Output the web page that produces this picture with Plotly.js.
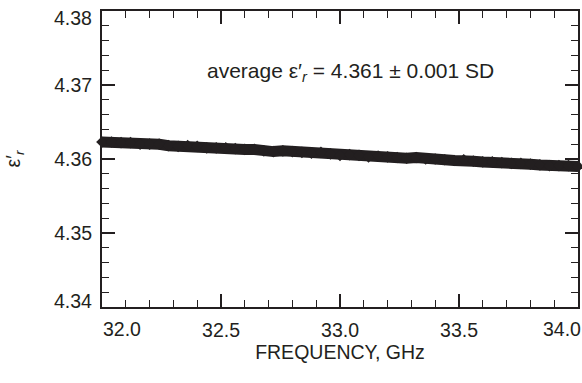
<!DOCTYPE html>
<html>
<head>
<meta charset="utf-8">
<script src="https://cdn.plot.ly/plotly-3.0.1.min.js"></script>
<style>html,body{margin:0;padding:0;background:#fff;}#chart{width:582px;height:383px;}</style>
</head>
<body>
<div id="chart"></div>
<script>
// Frequency (GHz)
const freqGHz = [32.00,32.04,32.08,32.12,32.16,32.20,32.24,32.28,32.32,32.36,
  32.40,32.44,32.48,32.52,32.56,32.60,32.64,32.68,32.72,32.76,
  32.80,32.84,32.88,32.92,32.96,33.00,33.04,33.08,33.12,33.16,
  33.20,33.24,33.28,33.32,33.36,33.40,33.44,33.48,33.52,33.56,
  33.60,33.64,33.68,33.72,33.76,33.80,33.84,33.88,33.92,33.96,34.00];
// Relative permittivity eps'_r
const epsR = [4.3623,4.3623,4.3622,4.3622,4.3620,4.3620,4.3620,4.3618,4.3617,4.3618,
  4.3617,4.3615,4.3615,4.3615,4.3614,4.3613,4.3613,4.3611,4.3610,4.3611,
  4.3610,4.3609,4.3608,4.3609,4.3607,4.3605,4.3606,4.3605,4.3603,4.3604,
  4.3603,4.3602,4.3601,4.3602,4.3600,4.3600,4.3599,4.3598,4.3599,4.3597,
  4.3596,4.3596,4.3595,4.3594,4.3594,4.3593,4.3592,4.3591,4.3591,4.3591,4.3590];
const xTickVals = [32.5,33.0,33.5];
const xTickText = ['32.5','33.0','33.5'];
const yTickVals = [4.35,4.36,4.37];
const yTickText = ['4.35','4.36','4.37'];
const xEdgeLabels = ['32.0','34.0'];
const yEdgeLabels = ['4.38','4.34'];
const avgText = 'average ε′<sub><i>r</i></sub> = 4.361 ± 0.001 SD';

const ink = '#231f20';
const fontFam = '"Liberation Sans", Arial, Helvetica, sans-serif';
const fs = 19.5;

const trace = {
  x: freqGHz, y: epsR, type: 'scatter', mode: 'lines+markers',
  line: {color: ink, width: 11},
  marker: {symbol: 'diamond', size: 9, color: ink},
  cliponaxis: false, hoverinfo: 'skip'
};
const mirrorTrace = {
  x: freqGHz, y: epsR, type: 'scatter', mode: 'none', xaxis: 'x2', yaxis: 'y2',
  hoverinfo: 'skip', showlegend: false
};

const axisCommon = {
  showgrid: false, zeroline: false, showline: true, linecolor: ink, linewidth: 2,
  mirror: true, ticks: 'inside', ticklen: 13, tickwidth: 1.5, tickcolor: ink,
  tickfont: {family: fontFam, size: fs, color: ink}, tickmode: 'array',
  fixedrange: true
};
const minorX = {dtick: 0.1, tick0: 32, ticks: 'inside', ticklen: 7, tickwidth: 1.2, tickcolor: ink};
const minorY = {dtick: 0.002, tick0: 4.34, ticks: 'inside', ticklen: 7, tickwidth: 1.2, tickcolor: ink};

const layout = {
  width: 582, height: 383,
  margin: {l: 102, r: 4, t: 11, b: 76},
  paper_bgcolor: '#fff', plot_bgcolor: '#fff',
  showlegend: false,
  font: {family: fontFam, color: ink},
  xaxis: Object.assign({}, axisCommon, {
    range: [32.0, 34.0], tickvals: xTickVals, ticktext: xTickText,
    ticklabelstandoff: 5, minor: minorX,
    title: {text: 'FREQUENCY, GHz', font: {family: fontFam, size: fs, color: ink}, standoff: 2}
  }),
  yaxis: Object.assign({}, axisCommon, {
    range: [4.34, 4.38], tickvals: yTickVals, ticktext: yTickText,
    ticklabelstandoff: 4, minor: minorY,
    title: {text: 'ε′<sub><i>r</i></sub>', font: {family: fontFam, size: fs, color: ink}, standoff: 28}
  }),
  xaxis2: {overlaying: 'x', anchor: 'y', side: 'top', range: [32.0, 34.0], showgrid: false, zeroline: false,
    showline: false, ticks: 'inside', ticklen: 13, tickwidth: 1.5, tickcolor: ink, showticklabels: false,
    tickmode: 'array', tickvals: xTickVals, minor: minorX, fixedrange: true},
  yaxis2: {overlaying: 'y', anchor: 'x', side: 'right', range: [4.34, 4.38], showgrid: false, zeroline: false,
    showline: false, ticks: 'inside', ticklen: 13, tickwidth: 1.5, tickcolor: ink, showticklabels: false,
    tickmode: 'array', tickvals: yTickVals, minor: minorY, fixedrange: true},
  annotations: [
    {xref: 'paper', yref: 'paper', x: 0.523, y: 0.795, xanchor: 'center', yanchor: 'middle',
     text: avgText, showarrow: false, font: {family: fontFam, size: 21, color: ink}},
    {xref: 'x', yref: 'paper', x: 32.0, y: 0, xshift: 20, yshift: -22, xanchor: 'center', yanchor: 'middle',
     text: xEdgeLabels[0], showarrow: false, font: {family: fontFam, size: fs, color: ink}},
    {xref: 'x', yref: 'paper', x: 34.0, y: 0, xshift: -16, yshift: -22, xanchor: 'center', yanchor: 'middle',
     text: xEdgeLabels[1], showarrow: false, font: {family: fontFam, size: fs, color: ink}},
    {xref: 'paper', yref: 'y', x: 0, y: 4.38, xshift: -8, yshift: -7, xanchor: 'right', yanchor: 'middle',
     text: yEdgeLabels[0], showarrow: false, font: {family: fontFam, size: fs, color: ink}},
    {xref: 'paper', yref: 'y', x: 0, y: 4.34, xshift: -8, yshift: 6, xanchor: 'right', yanchor: 'middle',
     text: yEdgeLabels[1], showarrow: false, font: {family: fontFam, size: fs, color: ink}}
  ]
};

Plotly.newPlot('chart', [trace, mirrorTrace], layout, {displayModeBar: false, staticPlot: true});
</script>
</body>
</html>
